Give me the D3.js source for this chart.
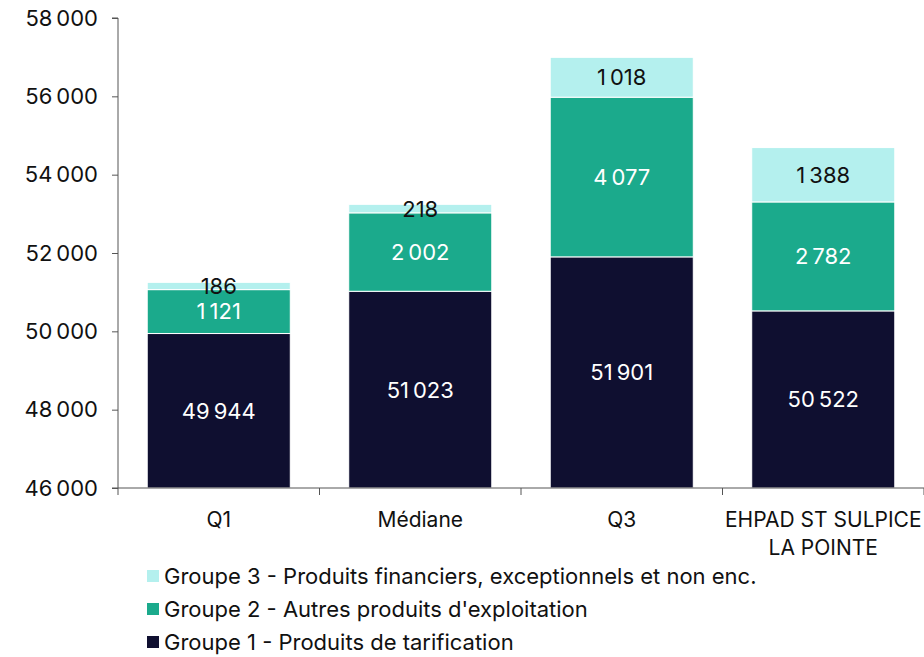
<!DOCTYPE html>
<html>
<head>
<meta charset="utf-8">
<script src="https://cdn.jsdelivr.net/npm/d3@7"></script>
<style>
  html, body { margin: 0; padding: 0; background: #fff; }
  svg { display: block; font-family: Inter, "Liberation Sans", Arial, sans-serif; }
</style>
</head>
<body>
<svg id="chart" width="924" height="657"></svg>
<script>
// Categories and stacked series (produits par groupe)
const categories = ["Q1", "Médiane", "Q3", "EHPAD ST SULPICE\nLA POINTE"];
const groupe1 = [49944, 51023, 51901, 50522];
const groupe2 = [1121, 2002, 4077, 2782];
const groupe3 = [186, 218, 1018, 1388];
const seriesNames = [
  "Groupe 1 - Produits de tarification",
  "Groupe 2 - Autres produits d'exploitation",
  "Groupe 3 - Produits financiers, exceptionnels et non enc."
];
const seriesColors = ["#0f0f30", "#1baa8c", "#b4f0ee"];
const labelColors = ["#ffffff", "#ffffff", "#111111"];
const yTicks = [46000, 48000, 50000, 52000, 54000, 56000, 58000];

const locale = d3.formatLocale({ decimal: ",", thousands: "\u202F", grouping: [3], currency: ["", " €"] });
const fmt = locale.format(",.0f");

const svg = d3.select("#chart");
const margin = { left: 118, right: 0, top: 18, bottom: 169 };
const W = 924, H = 657;

const x = d3.scaleBand().domain(d3.range(categories.length)).range([margin.left, W - margin.right]).paddingInner(0.29).paddingOuter(0.145);
const y = d3.scaleLinear().domain([46000, 58000]).range([H - margin.bottom, margin.top]);

const rows = categories.map((c, i) => ({ i, g1: groupe1[i], g2: groupe2[i], g3: groupe3[i] }));
const stack = d3.stack().keys(["g1", "g2", "g3"])(rows);

const g = svg.append("g");
stack.forEach((layer, k) => {
  g.selectAll(null).data(layer).enter().append("rect")
    .attr("x", d => x(d.data.i))
    .attr("width", x.bandwidth())
    .attr("y", d => y(d[1]))
    .attr("height", d => y(Math.max(d[0], 46000)) - y(d[1]))
    .attr("fill", seriesColors[k])
    .attr("stroke", "#ffffff")
    .attr("stroke-width", 1);
});

// Value labels centred on the visible part of each segment
stack.forEach((layer, k) => {
  g.selectAll(null).data(layer).enter().append("text")
    .attr("x", d => x(d.data.i) + x.bandwidth() / 2)
    .attr("y", d => (y(Math.max(d[0], 46000)) + y(d[1])) / 2)
    .attr("dy", "0.36em")
    .attr("text-anchor", "middle")
    .attr("font-size", 22)
    .attr("fill", labelColors[k])
    .text(d => fmt(d[1] - d[0]));
});

// Y axis
const yAxis = d3.axisLeft(y).tickValues(yTicks).tickFormat(fmt).tickSize(6).tickPadding(14);
const ya = svg.append("g").attr("transform", `translate(${margin.left},0)`).call(yAxis);
ya.select(".domain").attr("stroke", "#555").attr("d", `M-6,${y(58000)}H0V${y(46000)}H-6`);
ya.selectAll(".tick line").attr("stroke", "#555");
ya.selectAll(".tick text").attr("font-size", 22).attr("fill", "#111").attr("font-family", "Inter, 'Liberation Sans', Arial, sans-serif");

// X axis with boundary ticks between categories
const xa = svg.append("g");
xa.append("line").attr("x1", margin.left).attr("x2", W).attr("y1", y(46000)).attr("y2", y(46000)).attr("stroke", "#555");
const step = x.step();
d3.range(categories.length + 1).forEach(j => {
  const bx = margin.left + j * step;
  xa.append("line").attr("x1", bx).attr("x2", bx).attr("y1", y(46000)).attr("y2", y(46000) + 7).attr("stroke", "#555");
});
categories.forEach((c, i) => {
  const t = xa.append("text")
    .attr("x", x(i) + x.bandwidth() / 2)
    .attr("y", y(46000) + 39)
    .attr("text-anchor", "middle")
    .attr("font-size", 21)
    .attr("fill", "#111");
  c.split("\n").forEach((line, li) => {
    t.append("tspan").attr("x", x(i) + x.bandwidth() / 2).attr("dy", li === 0 ? 0 : 28).text(line);
  });
});

// Legend (Groupe 3 on top)
const legend = svg.append("g").attr("transform", "translate(147,576)");
[2, 1, 0].forEach((k, r) => {
  const row = legend.append("g").attr("transform", `translate(0,${r * 33})`);
  row.append("rect").attr("x", 0).attr("y", -6).attr("width", 12).attr("height", 12).attr("fill", seriesColors[k]);
  row.append("text").attr("x", 17).attr("y", 0).attr("dy", "0.36em").attr("font-size", 22).attr("fill", "#111").text(seriesNames[k]);
});
</script>
</body>
</html>
